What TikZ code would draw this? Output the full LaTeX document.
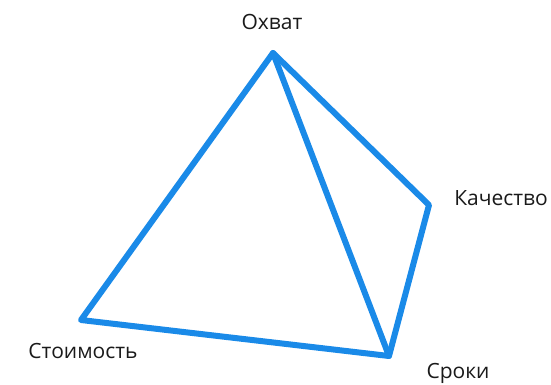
\documentclass[tikz,border=0pt]{standalone}
\usepackage{fontspec}
\setmainfont{Open Sans}
\usepackage{tikz}
\usetikzlibrary{positioning}
\definecolor{edgeblue}{HTML}{1A8AE8}
\definecolor{labelgray}{HTML}{1A1A1A}

\begin{document}
\begin{tikzpicture}[
  x=1pt, y=-1pt,
  corner/.style={text=labelgray, font=\fontsize{21}{25}\selectfont, inner sep=0pt},
  edge/.style={draw=edgeblue, line width=6pt, line join=round, line cap=round}
]
  \useasboundingbox (0,0) rectangle (551,385);
  \coordinate (top)    at (273,53);
  \coordinate (right)  at (429,205);
  \coordinate (bottom) at (389,356);
  \coordinate (left)   at (81,320);
  \node[corner] (scope)   at (272,22)  {Охват};
  \node[corner] (quality) at (501,198) {Качество};
  \node[corner] (cost)    at (83,351)  {Стоимость};
  \node[corner] (time)    at (458,373) {Сроки};
  \draw[edge] (top)--(left)--(bottom)--(top);
  \draw[edge] (top)--(right)--(bottom);
\end{tikzpicture}
\end{document}
